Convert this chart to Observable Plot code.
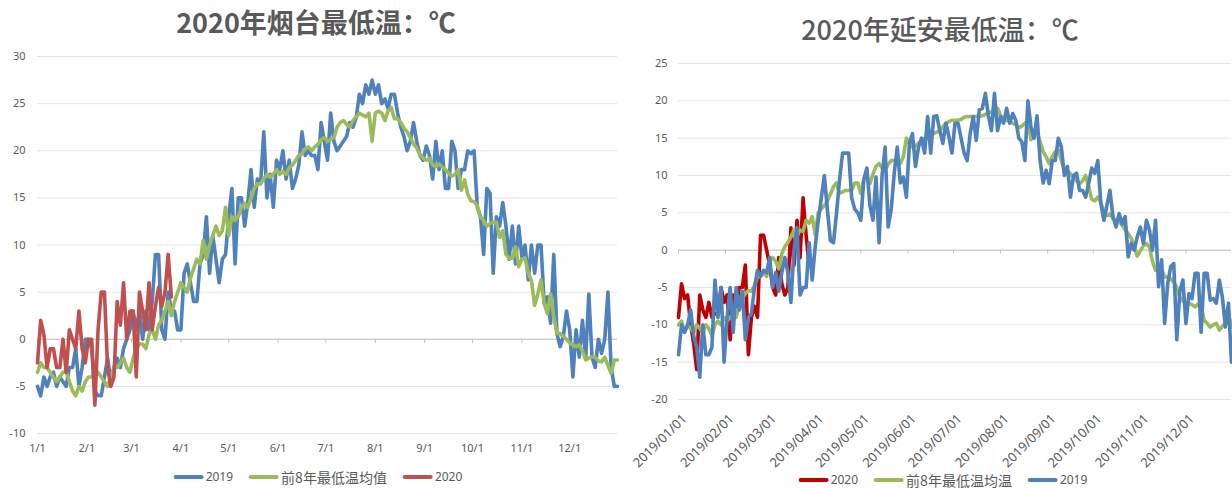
<!DOCTYPE html>
<html><head><meta charset="utf-8">
<script src="https://cdn.jsdelivr.net/npm/d3@7"></script>
<script src="https://cdn.jsdelivr.net/npm/@observablehq/plot@0.6"></script>
<style>
body{margin:0;background:#fff;width:1232px;height:488px;position:relative;overflow:hidden;font-family:"Noto Sans","Noto Sans CJK SC",sans-serif;}
.title{position:absolute;font-family:"Noto Sans CJK SC",sans-serif;font-size:27px;color:#595959;white-space:nowrap;transform:translate(-50%,-50%);line-height:1}
.legend{position:absolute;display:flex;align-items:center;color:#595959;transform:translate(-50%,-50%);white-space:nowrap;line-height:14px;height:14px}
.item{display:flex;align-items:center;margin:0 8px}
.sw{display:inline-block;width:30px;height:4px;margin-right:2px;border-radius:2px}
.num{font-size:12px}
.cjk{font-size:14px;font-family:"Noto Sans CJK SC",sans-serif}
#left{position:absolute;left:0;top:40px}
#right{position:absolute;left:620px;top:45px}
</style></head><body>
<div class="title" style="left:316px;top:21px;font-weight:700">2020年烟台最低温：℃</div>
<div class="title" style="left:940px;top:28px;font-weight:500">2020年延安最低温：℃</div>
<div id="left"></div>
<div id="right"></div>
<div class="legend" style="left:318px;top:477px">
  <span class="item"><span class="sw" style="background:#4F81BD"></span><span class="num">2019</span></span>
  <span class="item"><span class="sw" style="background:#9BBB59"></span><span class="cjk">前8年最低温均值</span></span>
  <span class="item"><span class="sw" style="background:#C0504D"></span><span class="num">2020</span></span>
</div>
<div class="legend" style="left:943px;top:480px">
  <span class="item"><span class="sw" style="background:#C00000"></span><span class="num">2020</span></span>
  <span class="item"><span class="sw" style="background:#9BBB59"></span><span class="cjk">前8年最低温均温</span></span>
  <span class="item"><span class="sw" style="background:#4F81BD"></span><span class="num">2019</span></span>
</div>
<script>
// ---- data: values every 2 days starting 2019/01/01 (day-of-year positions) ----
const ytYTicks = [-10, -5, 0, 5, 10, 15, 20, 25, 30];
const yaYTicks = [-20, -15, -10, -5, 0, 5, 10, 15, 20, 25];

// 烟台 2019
const ytBlue2019 = [
-5,-6,-4,-5,-4,-3.5,-5,-4,-4.5,-5,
-3,-3,-1,-5,-3,0,0,-1,-5.5,-6,
-6,-4,-2,-4.5,-3,-2,-3,-1,0,1,
3,1,3,0,3,1,4,9,9,1,
0,5,3,3,1,1,7,8,6,4,
4,8,9,13,7,11,8.5,6,8.5,9,
13,16,8,15,15,12,14.5,18,14,17,
16.5,22,15,17.5,14,19,18,20,17,19,
16,17,18.5,22,19.5,20,19.5,19.5,18,23,
21,19,24,21,20,20.5,21,21.5,23,22.5,
23.5,26,25,27,26,27.5,26,27,25,25.5,
24.5,26,26,24,22.5,21.5,20,21,23,21,
19.5,19,20.5,19.5,17,21,18,20,16,16,
21,20,16,18,18,20,19.7,20,14,13,
9,16,15.5,7,13,12,14.5,12,8.5,12,
8,12,8.7,10,6.3,10,7,10,10,3.8,
4.5,1.7,9,0.6,-0.8,0.3,3,1,-4,1,
-1.9,2,-2,4.8,-1.9,-3,0,-1.5,0,5,
-3,-5,-5];
// 烟台 前8年最低温均值
const ytGreenAvg = [
-3.5,-2.5,-3,-3,-3.5,-4,-4.5,-4,-3.5,-3.5,
-4.5,-5.5,-6,-5,-5.5,-4.5,-4,-4,-3.5,-3.5,
-4,-4.5,-5,-4,-3,-3,-2.5,-2,-3,-3.5,
-2,-1,-0.5,-0.5,-1,0.5,1,0,1.5,2,
3,4,2.5,4,5,6,5.5,5,6.5,7.5,
8.5,8,10.5,8.5,10,11,12,11,11.5,14,
11,13,12.6,13,14,14.4,14,15,16,16.5,
16.5,17,17.5,17.2,17.5,18,17.5,17.8,17.5,18.2,
18.5,19,19.5,19.7,20.2,20.4,20,20.4,20.7,21.2,
21.4,21,21.2,21.4,22.5,23,23.2,22.8,22.5,23.2,
23.6,24,23.8,23.6,24,21,24,24.2,24,23.2,
24.2,24.6,23.4,23.4,23,22.4,22,21.4,20.7,20.3,
19.6,19.2,19,19.2,18.5,18.3,18.6,18.3,18,17.6,
17.3,17.5,18,15.8,16.9,15.4,14.7,14.6,14.2,13,
12.6,12,12.3,12.4,12.4,10.8,11.5,9,8.6,8.6,
9.8,7.7,8.5,8.6,7,6.2,3.6,4.8,6.3,3.8,
2.7,4.8,2.4,0.6,0.6,0.3,0,-0.4,-0.6,-0.8,
-0.6,-1.2,-2.2,-2,-1.9,-1.9,-2.3,-2.4,-1.9,-2.8,
-3.6,-2.2,-2.2];
// 烟台 2020
const ytRed2020 = [
-2.5,2,0.5,-3,-1,-1,-3,-3,0,-3.5,
1,0,-1,3,-1,-2.5,0,0,-7,1,
5,5,-3,-5,-4,4,1.5,6,0,3,
3,-4,5,3,1,6,1,3.5,5.5,3.5,
5,9,4.5];

// 延安 2020
const yaRed2020 = [
-9,-4.5,-6.5,-6,-10,-12.5,-16,-6,-8,-9,
-7,-9,-8.5,-8.5,-5,-7,-6,-12,-6,-7.5,
-5,-5,-2,-14,-9,-7.5,-9,2,2,0,
-2,-5,-6,-1,-4.5,-6,-5,3,-2,4,
-1,7,2,-2];
// 延安 前8年最低温均温
const yaGreenAvg = [
-10,-9.5,-11,-10,-10.5,-11,-10,-10.5,-11,-10,
-10.5,-11.5,-10,-9.5,-10,-9,-9.5,-9,-8.5,-9,
-7.5,-6.5,-5.8,-5.4,-5.5,-4.8,-3.6,-3.5,-3,-3.5,
-1.5,-1,-1.5,-2.5,-0.5,0.5,1,1.8,2.7,1.8,
2.7,2.5,4,3.6,4.5,2,5,5.5,6,6.5,
7.5,8.5,9,7.6,7.8,8,8,8,9,9,
7.6,9.5,9.8,8.9,10.2,11.2,11.6,11,10.7,11.5,
12,12,12,11.6,12.5,15,14.3,13.8,14,14.3,
14.7,15,15.2,15.4,15.6,15.8,16,16.5,17,17.2,
17.4,17.4,17.4,17.5,17.8,17.9,17.9,17.9,17.9,17.9,
18,18.2,18.4,18.5,19,19,18,17.6,17.4,17.2,
17,16.8,16.4,16.6,17,17.3,14.8,15.8,15.8,14.5,
13.2,12.5,11.6,12.5,13.2,13.4,12,10.7,10.7,10.2,
9.8,9.3,8.9,9.3,10,8.5,6.8,6.6,7.1,6.4,
5,4.6,4.9,4.2,4,4,3.3,2.7,2.2,1.6,
0.5,-0.8,-0.1,0.6,0.9,0.4,-1.5,-2.7,-2.3,-2.5,
-3.6,-3.6,-3.8,-4.3,-5,-6.3,-6.8,-7.1,-7.1,-7.3,
-7.6,-7.2,-7.5,-9.4,-9.8,-10.3,-10,-9.8,-10.7,-10.2,
-9.8,-8.5,-10.3];
// 延安 2019
const yaBlue2019 = [
-14,-10,-11,-10,-8,-11.5,-13,-17,-10,-14,
-14,-13,-4,-9,-5,-15,-9,-5,-11,-5,
-8,-5.5,-12,-9,-8.5,-5,-2.7,-3.5,-2.7,-3,
-1,-5,-3,-5.5,-3,-1,-3,-7,0,3,
-6,-5,-5,1,-4,0.5,4,7,10,5.4,
1.3,1,4.9,9.4,13,13,13,7,5.5,5,
4,9.5,11,6,4,9.8,1,10,13.8,3.1,
5.4,10.3,13.8,9,9.8,7.1,14.3,15.6,11.2,13.8,
15,13,17.9,13,17.9,18,16,14.3,17,15.2,
13,17,17,15,13,12,15.6,17.9,14.7,18.8,
19,21,18,16,21,16,17.9,17,19,17,
18.3,17.4,15,14.5,12,20,16.5,15,18,12,
9,10.7,8.9,12,12,15,13.8,10,11.2,7.1,
10,10.3,8,8,7.1,8.9,11,10.3,12,6.3,
4,6,8,4.5,3.1,4.9,3.5,4.5,-0.9,0.9,
0,1.8,3.1,0.9,4,2.7,0,4,-4.9,-1.3,
-9.8,-4.5,-2.2,-1.8,-12,-5.5,-4,-9.8,-5.8,-6.5,
-3.1,-3.1,-11,-3.1,-3.1,-6.7,-6.5,-7.1,-4,-6.3,
-10.3,-7.1,-15];

// ---- build ----
const DAY = 86400000, T0 = Date.UTC(2019, 0, 1), STEP = 2;
const rows = vals => vals.map((v, i) => ({date: new Date(T0 + i * STEP * DAY), v}));
const xDomain = [new Date(T0), new Date(Date.UTC(2019, 11, 31))];
const monthTicks = d3.utcMonths(new Date(T0), new Date(Date.UTC(2020, 0, 1)));
const FONT = '"Noto Sans","Noto Sans CJK SC",sans-serif';
const fmtYMD = d3.utcFormat("%Y/%m/%d");
const line = (vals, color) => Plot.lineY(rows(vals), {x: "date", y: "v", stroke: color, strokeWidth: 3.6, curve: "linear"});

const left = Plot.plot({
  width: 620, height: 425, marginTop: 16, marginBottom: 32, marginLeft: 37, marginRight: 3,
  style: {fontFamily: FONT, fontSize: "11px", color: "#595959", background: "none", overflow: "visible"},
  x: {type: "utc", domain: xDomain, label: null},
  y: {domain: [-10, 30], label: null},
  marks: [
    Plot.gridY(ytYTicks, {stroke: "#e4e4e4", strokeOpacity: 1}),
    Plot.ruleY([0], {stroke: "#c4c4c4"}),
    Plot.ruleX(monthTicks, {y1: 0, y2: -0.45, stroke: "#c4c4c4"}),
    Plot.axisY(ytYTicks, {tickSize: 0, tickPadding: 12, tickFormat: d => String(d)}),
    Plot.axisX(monthTicks, {tickSize: 0, tickPadding: 11, tickFormat: d => `${d.getUTCMonth() + 1}/1`}),
    line(ytBlue2019, "#4F81BD"),
    line(ytGreenAvg, "#9BBB59"),
    line(ytRed2020, "#C0504D")
  ]
});
document.getElementById("left").append(left);

const right = Plot.plot({
  width: 612, height: 435, marginTop: 18, marginBottom: 81, marginLeft: 58, marginRight: 1,
  style: {fontFamily: FONT, fontSize: "11px", color: "#595959", background: "none", overflow: "visible"},
  x: {type: "utc", domain: xDomain, label: null},
  y: {domain: [-20, 25], label: null},
  marks: [
    Plot.gridY(yaYTicks, {stroke: "#e4e4e4", strokeOpacity: 1}),
    Plot.ruleY([0], {stroke: "#c4c4c4"}),
    Plot.ruleX(monthTicks, {y1: 0, y2: -0.55, stroke: "#c4c4c4"}),
    Plot.axisY(yaYTicks, {tickSize: 0, tickPadding: 11, tickFormat: d => String(d)}),
    Plot.axisX(monthTicks, {tickSize: 0, tickPadding: 17, tickRotate: -45, fontSize: 13, dx: 6, tickFormat: d => fmtYMD(d)}),
    line(yaRed2020, "#C00000"),
    line(yaGreenAvg, "#9BBB59"),
    line(yaBlue2019, "#4F81BD")
  ]
});
document.getElementById("right").append(right);
</script>
</body></html>
